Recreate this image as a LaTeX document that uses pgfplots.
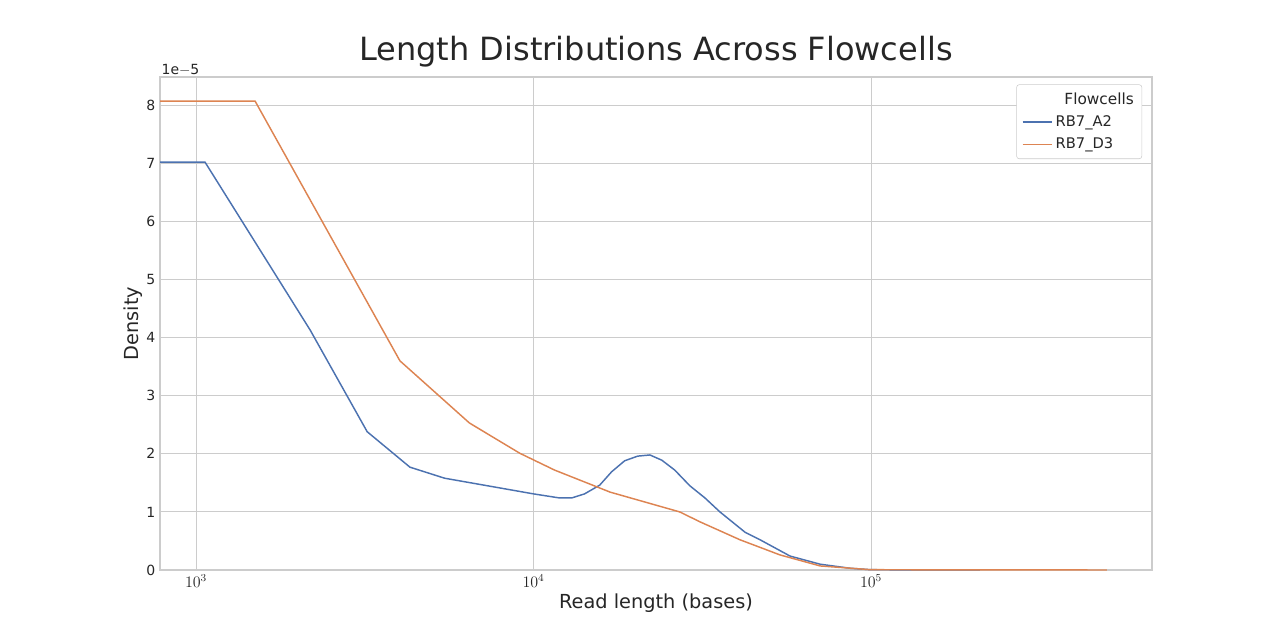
\documentclass[border=0pt]{standalone}
\usepackage{pgfplots}
\pgfplotsset{compat=1.18}
\usepackage{fontspec}
\setmainfont{DejaVu Sans}
\definecolor{sbblue}{HTML}{4C72B0}
\definecolor{sborange}{HTML}{DD8452}
\definecolor{gridc}{HTML}{CCCCCC}
\begin{document}
\begin{tikzpicture}[x=0.75pt,y=0.75pt]
\useasboundingbox (-160,-70) rectangle (1120,570);
\begin{axis}[at={(0,0)},anchor=south west,scale only axis,
 width=744pt,height=369.75pt,
 xmode=log, xmin=782, xmax=680000, ymin=0, ymax=8.485,
 log basis x=10, clip=false,
 xtick={1000,10000,100000},
 ytick={0,1,2,3,4,5,6,7,8},
 grid=major, major grid style={gridc,line width=0.8pt},
 axis line style={gridc,line width=0.8pt},
 tick style={draw=none},
 ticklabel style={font=\fontsize{10.5}{12}\selectfont, text=black!85},
 xticklabel style={font=\fontsize{12}{14}\selectfont},
 yticklabel style={/pgf/number format/assume math mode=true},
 title={Length Distributions Across Flowcells},
 title style={font=\fontsize{24}{28}\selectfont, text=black!85, yshift=-2pt},
 xlabel={Read length (bases)}, ylabel={Density},
 ylabel style={yshift=-4pt},
 xlabel style={yshift=2pt},
 label style={font=\fontsize{14.5}{17}\selectfont, text=black!85},
 legend style={at={(0.99,0.985)},anchor=north east,draw=gridc,rounded corners=2pt,font=\fontsize{11}{13}\selectfont,text=black!85,row sep=3pt,inner sep=4pt},
 legend cell align=left,
 legend columns=1,
 legend image post style={xscale=1.3},
]
\addlegendimage{empty legend}
\addlegendentry{\hspace{0.6em}\fontsize{11.5}{13}\selectfont Flowcells}
\addplot[sbblue,line width=1.1pt] coordinates {
(782,7.02)(1063,7.02)(2178,4.13)(3214,2.38)(4302,1.77)(5450,1.58)(10000,1.31)(11940,1.24)(12970,1.24)(14160,1.31)(15700,1.46)(17030,1.69)(18620,1.88)(20350,1.96)(22120,1.98)(23990,1.89)(26200,1.72)(29040,1.45)(32200,1.24)(35660,1.00)(42330,0.65)(46900,0.52)(57540,0.24)(70650,0.10)(86700,0.03)(100000,0.005)(210000,0.0)};
\addlegendentry{RB7\_A2}
\addplot[sborange,line width=1.1pt] coordinates {
(782,8.07)(1496,8.07)(4018,3.60)(6457,2.53)(9100,2.01)(11540,1.72)(16870,1.34)(27100,1.0)(31100,0.83)(40900,0.52)(53700,0.26)(70650,0.07)(100000,0.005)(500000,0.0)};
\addlegendentry{RB7\_D3}
\node[anchor=south west,inner sep=1pt,font=\fontsize{10.5}{12}\selectfont,text=black!85] at (rel axis cs:0,1) {1e$-$5};
\end{axis}
\end{tikzpicture}
\end{document}
